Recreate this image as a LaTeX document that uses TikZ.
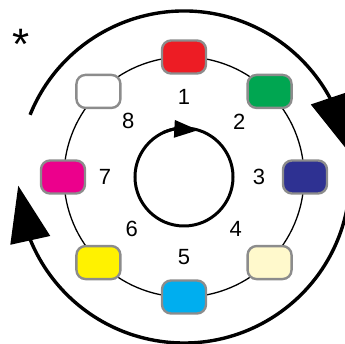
\documentclass[tikz,border=0pt]{standalone}
\usepackage{fontspec}
\setmainfont{Liberation Sans}
\usepackage{xcolor}
\usetikzlibrary{
    arrows.meta,
    bending
}

\definecolor{segred}{HTML}{ED1C24}
\definecolor{seggreen}{HTML}{00A651}
\definecolor{segnavy}{HTML}{2E3192}
\definecolor{segcream}{HTML}{FFF9CC}
\definecolor{segblue}{HTML}{00AEEF}
\definecolor{segyellow}{HTML}{FFF200}
\definecolor{segmagenta}{HTML}{EC008C}
\definecolor{segrim}{HTML}{8C8C8C}

\begin{document}
\begin{tikzpicture}[
    slot/.style={
        rectangle,
        rounded corners=9pt,
        draw=segrim,
        line width=2.4pt,
        minimum width=44pt,
        minimum height=33pt,
        inner sep=0pt
    },
    num/.style={
        font=\fontsize{22}{26}\selectfont,
        inner sep=0pt
    },
    ring/.style={
        line width=1.3pt,
        draw=black
    },
    turn/.style={
        line width=3.4pt,
        -{Triangle[length=56pt,width=40pt]}
    },
    spin/.style={
        line width=3pt,
        -{Triangle[length=24pt,width=17pt]}
    }
]

\useasboundingbox (-184pt,-167pt) rectangle (161pt,177pt);

\coordinate (hub) at (0pt,0pt);

% =========================================================
% Carousel ring
% =========================================================
\draw[ring] (hub) circle[radius=120pt];

% =========================================================
% Eight positions
% =========================================================
\node[slot, fill=segred] (pos1) at (90:120pt) {};
\node[slot, fill=seggreen] (pos2) at (45:121pt) {};
\node[slot, fill=segnavy] (pos3) at (0:121pt) {};
\node[slot, fill=segcream] (pos4) at (-45:121pt) {};
\node[slot, fill=segblue] (pos5) at (-90:120pt) {};
\node[slot, fill=segyellow] (pos6) at (-135:121pt) {};
\node[slot, fill=segmagenta] (pos7) at (180:121pt) {};
\node[slot, fill=white] (pos8) at (135:121pt) {};

% =========================================================
% Position numbers
% =========================================================
\node[num] (lab1) at (90:80pt) {1};
\node[num] (lab2) at (45:78pt) {2};
\node[num] (lab3) at (0:75pt) {3};
\node[num] (lab4) at (-45:73pt) {4};
\node[num] (lab5) at (-90:80pt) {5};
\node[num] (lab6) at (-135:74pt) {6};
\node[num] (lab7) at (180:79pt) {7};
\node[num] (lab8) at (135:79pt) {8};

% =========================================================
% Rotation arrows
% =========================================================
\draw[line width=3pt] (hub) circle[radius=49pt];
\draw[spin] ([shift={(115:49pt)}]hub) arc[start angle=115, end angle=73, radius=49pt];

\draw[turn] ([shift={(158:166pt)}]hub) arc[start angle=158, end angle=9, radius=166pt];
\draw[turn] ([shift={(-8:166pt)}]hub) arc[start angle=-8, end angle=-177, radius=166pt];

% =========================================================
% Marker
% =========================================================
\node[anchor=north, inner sep=0pt, font=\fontsize{44}{50}\selectfont] (mark) at (-163pt,148pt) {*};

\end{tikzpicture}
\end{document}
